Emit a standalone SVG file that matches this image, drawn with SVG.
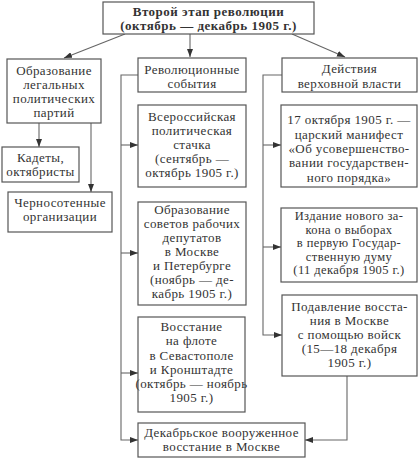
<svg xmlns="http://www.w3.org/2000/svg" width="418" height="459" viewBox="0 0 418 459">
<defs>
<marker id="ah" markerUnits="userSpaceOnUse" markerWidth="8" markerHeight="6" refX="8" refY="3" orient="auto">
<path d="M0,0 L8,3 L0,6 Z" fill="#333"/>
</marker>
<style>
.box{fill:#fff;stroke:#555;stroke-width:1.2}
.t{font-family:"Liberation Serif","DejaVu Serif",serif;font-size:13px;letter-spacing:0.4px;fill:#333;text-anchor:middle}
.s{font-size:12.5px}
.b{font-weight:bold;font-size:13px;letter-spacing:0.5px}
.c{fill:none;stroke:#666;stroke-width:1.1}
.a{marker-end:url(#ah)}
</style>
</defs>
<rect width="418" height="459" fill="#fff"/>
<g id="connectors">
<line class="c a" x1="125" y1="34" x2="64" y2="58"/>
<line class="c a" x1="190" y1="34" x2="190" y2="57"/>
<line class="c a" x1="292" y1="34" x2="345" y2="57"/>
<line class="c a" x1="39" y1="123" x2="39" y2="147"/>
<line class="c a" x1="91" y1="123" x2="91" y2="192"/>
<polyline class="c a" points="138,75 121,75 121,440 138,440"/>
<line class="c a" x1="121" y1="145" x2="138" y2="145"/>
<line class="c a" x1="121" y1="253" x2="138" y2="253"/>
<line class="c a" x1="121" y1="373" x2="138" y2="373"/>
<polyline class="c a" points="282,75 263,75 263,335 282,335"/>
<line class="c a" x1="263" y1="145" x2="281" y2="145"/>
<line class="c a" x1="263" y1="247" x2="281" y2="247"/>
<polyline class="c a" points="347,376 347,440 305,440"/>
</g>
<g id="n-top"><rect class="box" x="103" y="2" width="211" height="32"/>
<text class="t b" x="208.5" y="16">Второй этап революции</text>
<text class="t b" x="208.5" y="30">(октябрь — декабрь 1905 г.)</text></g>
<g id="n-parties"><rect class="box" x="7" y="59" width="94" height="64"/>
<text class="t" x="54" y="75">Образование</text>
<text class="t" x="54" y="89">легальных</text>
<text class="t" x="54" y="103">политических</text>
<text class="t" x="54" y="117">партий</text></g>
<g id="n-kadety"><rect class="box" x="2" y="147" width="77" height="35"/>
<text class="t" x="40.5" y="162">Кадеты,</text>
<text class="t" x="40.5" y="176">октябристы</text></g>
<g id="n-chern"><rect class="box" x="8" y="192" width="104" height="40"/>
<text class="t" x="60" y="207">Черносотенные</text>
<text class="t" x="60" y="221">организации</text></g>
<g id="n-rev"><rect class="box" x="138" y="58" width="108" height="34"/>
<text class="t" x="192" y="74">Революционные</text>
<text class="t" x="192" y="88">события</text></g>
<g id="n-stachka"><rect class="box" x="138" y="105" width="108" height="82"/>
<text class="t" x="192" y="121">Всероссийская</text>
<text class="t" x="192" y="135">политическая</text>
<text class="t" x="192" y="149">стачка</text>
<text class="t" x="192" y="163">(сентябрь —</text>
<text class="t" x="192" y="177">октябрь 1905 г.)</text></g>
<g id="n-sovety"><rect class="box" x="138" y="202" width="108" height="103"/>
<text class="t" x="192" y="214">Образование</text>
<text class="t" x="192" y="228">советов рабочих</text>
<text class="t" x="192" y="242">депутатов</text>
<text class="t" x="192" y="256">в Москве</text>
<text class="t" x="192" y="270">и Петербурге</text>
<text class="t" x="192" y="284">(ноябрь — де-</text>
<text class="t" x="192" y="298">кабрь 1905 г.)</text></g>
<g id="n-flot"><rect class="box" x="138" y="317" width="107" height="95"/>
<text class="t" x="191.5" y="331">Восстание</text>
<text class="t" x="191.5" y="345">на флоте</text>
<text class="t" x="191.5" y="360">в Севастополе</text>
<text class="t" x="191.5" y="374">и Кронштадте</text>
<text class="t" x="191.5" y="388" letter-spacing="0">(октябрь — ноябрь</text>
<text class="t" x="191.5" y="402">1905 г.)</text></g>
<g id="n-dekabr"><rect class="box" x="138" y="423" width="167" height="34"/>
<text class="t" x="221.5" y="437">Декабрьское вооруженное</text>
<text class="t" x="221.5" y="451">восстание в Москве</text></g>
<g id="n-vlast"><rect class="box" x="282" y="58" width="135" height="34"/>
<text class="t" x="349.5" y="73">Действия</text>
<text class="t" x="349.5" y="88">верховной власти</text></g>
<g id="n-manifest"><rect class="box" x="281" y="105" width="136" height="82"/>
<text class="t" x="349" y="124">17 октября 1905 г. —</text>
<text class="t" x="349" y="139">царский манифест</text>
<text class="t" x="349" y="153">«Об усовершенство-</text>
<text class="t" x="349" y="167">вании государствен-</text>
<text class="t" x="349" y="182">ного порядка»</text></g>
<g id="n-zakon"><rect class="box" x="281" y="208" width="136" height="74"/>
<text class="t s" x="349" y="220">Издание нового за-</text>
<text class="t s" x="349" y="233.5">кона о выборах</text>
<text class="t s" x="349" y="247">в первую Государ-</text>
<text class="t s" x="349" y="260.5">ственную думу</text>
<text class="t s" x="349" y="274">(11 декабря 1905 г.)</text></g>
<g id="n-podavl"><rect class="box" x="282" y="295" width="135" height="81"/>
<text class="t" x="349.5" y="311">Подавление восста-</text>
<text class="t" x="349.5" y="325">ния в Москве</text>
<text class="t" x="349.5" y="339">с помощью войск</text>
<text class="t" x="349.5" y="353">(15—18 декабря</text>
<text class="t" x="349.5" y="367">1905 г.)</text></g>
</svg>
